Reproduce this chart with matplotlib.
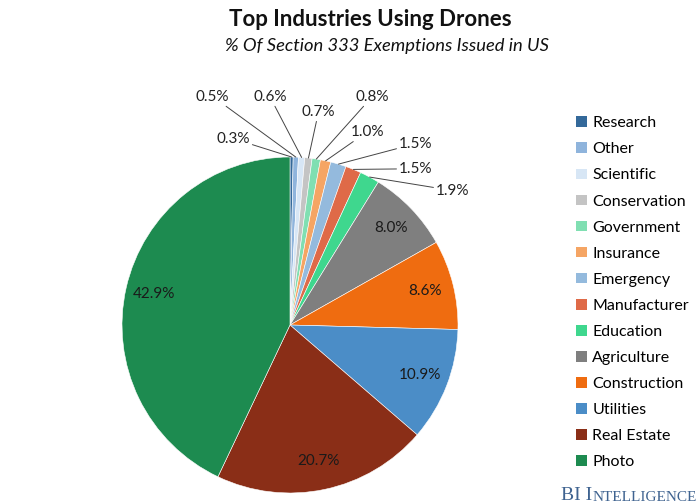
import numpy as np
import matplotlib.pyplot as plt
from matplotlib.patches import Patch

# data (percent of exemptions), clockwise from 12 o'clock
industries = ["Research", "Other", "Scientific", "Conservation", "Government",
              "Insurance", "Emergency", "Manufacturer", "Education", "Agriculture",
              "Construction", "Utilities", "Real Estate", "Photo"]
shares = [0.3, 0.5, 0.6, 0.7, 0.8, 1.0, 1.5, 1.5, 1.9, 8.0, 8.6, 10.9, 20.7, 42.9]
colors = ["#34699a", "#8fb4dc", "#d7e6f5", "#c4c4c4", "#80dfb2", "#f5a564",
          "#94badd", "#df6a48", "#3fd78e", "#7f7f7f", "#ef6c10", "#4b8dc7",
          "#8a2e17", "#1d8b50"]
labels = [f"{v:.1f}%" for v in shares]

# label placement for the thin slices (data units, pie radius = 1)
outside_pos = [(-0.34, 1.11), (-0.46, 1.36), (-0.12, 1.36), (0.17, 1.27),
               (0.49, 1.36), (0.46, 1.15), (0.75, 1.08), (0.75, 0.93), (0.97, 0.80)]

plt.rcParams['font.family'] = ['Lato', 'DejaVu Sans']

fig = plt.figure(figsize=(7, 5.04), dpi=100)
cx, cy, r = 290, 325, 168
ax = fig.add_axes([(cx - r) / 700, (504 - cy - r) / 504, 2 * r / 700, 2 * r / 504])
wedges, _ = ax.pie(shares, colors=colors, startangle=90, counterclock=False,
                   radius=1, wedgeprops=dict(edgecolor="white", linewidth=0.4))
ax.set_xlim(-1, 1)
ax.set_ylim(-1, 1)
ax.set_aspect("auto")
ax.axis("off")

for i, w in enumerate(wedges):
    mid = np.deg2rad((w.theta1 + w.theta2) / 2)
    if i < len(outside_pos):
        tx, ty = outside_pos[i]
        ax.annotate(labels[i], xy=(np.cos(mid), np.sin(mid)), xytext=(tx, ty),
                    ha="center", va="center", fontsize=11, color="#222222",
                    annotation_clip=False,
                    arrowprops=dict(arrowstyle="-", color="#444444", lw=0.7,
                                    shrinkA=0, shrinkB=0))
    else:
        d = 0.83
        ax.text(d * np.cos(mid), d * np.sin(mid), labels[i], ha="center",
                va="center", fontsize=11, color="#1a1a1a")

handles = [Patch(facecolor=c, edgecolor="none") for c in colors]
fig.legend(handles, industries, loc="upper left", bbox_to_anchor=(562 / 700, 1 - 102 / 504),
           frameon=False, fontsize=11.5, handlelength=0.65, handleheight=0.65,
           handletextpad=0.35, labelspacing=0.755)

fig.text(0.529, 1 - 20 / 504, "Top Industries Using Drones", ha="center", va="center",
         fontsize=16, fontweight="bold", color="#111111")
fig.text(0.553, 1 - 46 / 504, "% Of Section 333 Exemptions Issued in US", ha="center",
         va="center", fontsize=13.2, style="italic", color="#111111")

t1 = fig.text(561 / 700, 1 - 500 / 504, "BI I", ha="left", va="baseline",
              fontsize=14, family="Liberation Serif", color="#3f6390")
ax.annotate("NTELLIGENCE", xy=(1, 0), xycoords=t1, xytext=(0.3, 0),
            textcoords="offset points", ha="left", va="bottom", fontsize=11,
            family="Liberation Serif", color="#3f6390", annotation_clip=False)

fig.savefig("out.png", dpi=100)
